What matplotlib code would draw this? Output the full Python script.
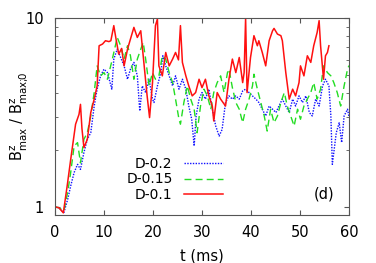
import matplotlib
matplotlib.use('Agg')
import matplotlib.pyplot as plt
from matplotlib.ticker import LogLocator, NullFormatter, FixedLocator


# Values
t_02 = [0, 0.8, 1.8, 2.6, 3.2, 3.9, 4.6, 5.2, 5.9, 6.6, 7.3, 8.0, 8.6, 9.3, 10.0,
        10.7, 11.6, 12.0, 12.7, 13.4, 14.1, 14.8, 15.4, 16.1, 16.8, 17.3, 17.8,
        18.5, 19.2, 19.9, 20.2, 20.9, 21.6, 22.0, 22.6, 23.3, 24.0, 24.6, 25.3,
        26.0, 26.7, 27.3, 27.9, 28.4, 28.8, 29.4, 30.0, 30.7, 31.4, 32.1, 32.8,
        33.5, 34.1, 34.8, 35.5, 36.2, 36.9, 37.6, 38.3, 38.9, 39.6, 40.3, 41.0,
        41.6, 42.3, 43.0, 43.7, 44.4, 45.1, 45.7, 46.4, 47.1, 47.8, 48.5, 49.1,
        49.8, 50.5, 51.2, 51.9, 52.5, 53.2, 53.9, 54.6, 55.2, 55.9, 56.3, 56.6,
        56.9, 57.4, 58.0, 58.5, 59.0, 59.7, 60.0]
b_02 = [1.0, 0.99, 0.93, 1.1, 1.29, 1.52, 1.68, 1.58, 1.94, 2.28, 2.47, 3.42, 4.20,
        4.94, 5.36, 5.14, 4.20, 6.06, 6.84, 6.18, 5.58, 4.74, 5.36, 5.82, 4.94,
        3.22, 4.37, 4.03, 4.74, 3.72, 3.57, 4.37, 5.14, 6.31, 5.58, 4.94, 4.37,
        4.94, 4.20, 4.74, 4.20, 3.42, 2.91, 2.10, 3.03, 3.72, 4.03, 3.72, 4.20,
        3.29, 2.68, 2.37, 2.57, 3.57, 3.87, 3.72, 3.87, 3.72, 4.11, 4.20, 4.03,
        3.87, 3.72, 3.57, 3.29, 3.03, 3.42, 3.29, 3.16, 3.42, 3.72, 3.42, 3.16,
        3.72, 3.42, 3.87, 3.57, 3.87, 3.16, 3.03, 3.72, 3.42, 4.37, 4.74, 4.37,
        3.03, 1.68, 1.94, 2.47, 2.79, 2.19, 3.03, 3.29, 3.0]

t_015 = [0, 0.8, 1.8, 2.6, 3.2, 3.9, 4.6, 5.2, 5.9, 6.6, 7.3, 8.0, 8.6, 9.3, 10.0,
         10.7, 11.7, 12.7, 13.4, 14.1, 14.8, 15.4, 16.1, 16.8, 17.5, 18.0, 18.5,
         19.2, 19.9, 20.5, 21.2, 21.9, 22.6, 23.3, 24.0, 24.6, 25.3, 25.6, 26.3,
         27.0, 27.7, 28.4, 29.0, 29.7, 30.4, 31.1, 31.8, 32.4, 33.1, 33.8, 34.5,
         35.2, 35.5, 36.2, 36.9, 37.6, 38.3, 38.9, 39.6, 40.3, 40.6, 41.3, 42.0,
         42.7, 43.3, 44.0, 44.7, 45.4, 46.1, 46.8, 47.4, 48.1, 48.8, 49.5, 50.1,
         50.8, 51.5, 52.2, 52.8, 53.5, 54.2, 54.8, 55.6, 56.3, 56.9, 57.6, 58.3,
         59.0, 59.7, 60.0]
b_015 = [1.0, 0.99, 0.95, 1.2, 1.52, 2.10, 2.19, 1.71, 2.28, 2.47, 3.03, 4.03, 5.58,
         4.94, 5.14, 4.74, 6.06, 7.89, 7.13, 6.06, 7.13, 6.31, 4.74, 6.06, 6.84,
         7.43, 6.06, 4.37, 5.14, 4.74, 4.94, 6.31, 6.06, 5.14, 4.55, 3.72, 2.91,
         2.74, 3.57, 4.37, 3.72, 3.29, 2.47, 3.42, 4.20, 3.87, 3.29, 4.03, 4.55,
         4.94, 4.03, 5.14, 5.36, 4.28, 3.57, 3.29, 2.79, 3.29, 3.72, 4.37, 5.04,
         4.20, 3.57, 3.03, 2.52, 3.29, 2.79, 3.03, 3.57, 4.03, 3.42, 3.03, 2.68,
         3.29, 2.91, 3.42, 3.72, 4.03, 4.55, 3.72, 4.20, 5.58, 5.14, 4.94, 4.55,
         4.03, 3.42, 4.37, 5.36, 5.6]

t_01 = [0, 0.8, 1.7, 2.5, 3.2, 4.2, 4.9, 5.2, 5.5, 5.9, 6.6, 7.3, 8.0, 8.6, 9.0,
        9.7, 10.3, 11.0, 11.4, 12.0, 12.4, 13.0, 13.6, 14.1, 14.8, 15.4, 16.1,
        16.8, 17.5, 18.2, 18.8, 19.3, 19.9, 20.5, 20.9, 21.2, 21.9, 22.6, 23.3,
        24.0, 24.6, 25.2, 25.6, 26.0, 26.7, 27.3, 28.0, 28.7, 29.4, 30.0, 30.7,
        31.4, 32.1, 32.4, 33.1, 33.8, 34.8, 35.5, 36.2, 36.9, 37.6, 38.3, 38.6,
        38.9, 39.2, 39.9, 40.6, 41.3, 41.6, 42.3, 43.0, 43.7, 44.4, 44.7, 45.4,
        46.1, 46.4, 47.1, 47.8, 48.5, 49.1, 49.8, 50.1, 50.8, 51.5, 52.2, 52.8,
        53.5, 53.9, 54.2, 54.8, 55.2, 55.6, 55.9]
b_01 = [1.0, 0.99, 0.93, 1.3, 1.78, 2.74, 3.09, 3.49, 2.6, 2.06, 2.28, 3.16, 3.72,
        4.37, 7.13, 7.28, 7.58, 7.5, 7.58, 9.11, 7.89, 6.44, 6.9, 5.58, 6.84,
        7.74, 8.92, 7.89, 8.56, 5.58, 3.87, 2.97, 4.55, 9.11, 9.88, 5.58, 4.94,
        6.57, 5.58, 6.06, 6.57, 6.0, 9.11, 5.82, 4.94, 4.37, 3.87, 4.03, 4.74,
        4.28, 4.74, 3.87, 3.42, 2.85, 4.03, 3.72, 3.42, 4.74, 6.06, 5.14, 6.18,
        4.55, 5.14, 10.0, 4.03, 6.18, 8.06, 7.13, 7.58, 6.57, 5.58, 7.58, 8.56,
        8.81, 8.22, 8.06, 7.58, 5.14, 3.72, 4.20, 3.87, 4.55, 5.58, 4.94, 6.31,
        5.82, 7.13, 8.39, 9.68, 7.13, 4.74, 6.31, 6.57, 7.13]

labels = ['D-0.2', 'D-0.15', 'D-0.1']

fig = plt.figure(figsize=(3.76, 2.63), dpi=100)
axes = fig.add_axes([55 / 376, 48 / 263, 294 / 376, 197 / 263])

axes.plot(t_02, b_02, color='#1010ff', lw=1.0, ls=(0, (1, 1)), label=labels[0])
axes.plot(t_015, b_015, color='#22dd22', lw=1.0, ls=(0, (5, 3)), label=labels[1])
axes.plot(t_01, b_01, color='#ff1010', lw=1.1, label=labels[2])

axes.set_yscale('log')
axes.set_xlim(0, 60)
axes.set_ylim(0.906, 10)
axes.xaxis.set_major_locator(FixedLocator([0, 10, 20, 30, 40, 50, 60]))
axes.yaxis.set_major_locator(FixedLocator([1, 10]))
axes.yaxis.set_major_formatter(plt.FixedFormatter(['1', '10']))
axes.yaxis.set_minor_locator(LogLocator(base=10, subs=range(2, 10)))
axes.yaxis.set_minor_formatter(NullFormatter())
axes.tick_params(which='both', direction='in', top=True, right=True,
                 labelsize=10.5, color='#555555')
axes.tick_params(which='major', length=3.5)
axes.tick_params(axis='x', which='major', pad=7.5)
axes.tick_params(axis='y', which='major', pad=8)
axes.tick_params(which='minor', length=2.5)
for spine in axes.spines.values():
    spine.set_color('#555555')
    spine.set_linewidth(0.8)

axes.set_xlabel('t (ms)', fontsize=10.5, labelpad=6)
axes.set_ylabel(r'B$^{\rm z}_{\rm max}$ / B$^{\rm z}_{\rm max;\!\!0}$', fontsize=10.5)
axes.yaxis.set_label_coords(-0.085, 0.5)
axes.text(0.915, 0.105, '(d)', transform=axes.transAxes, fontsize=10.5,
          ha='center', va='center')

axes.legend(loc='upper right', bbox_to_anchor=(0.603, 0.345), frameon=False,
            markerfirst=False, fontsize=10, handlelength=2.8,
            labelspacing=0.12, handletextpad=0.8, borderpad=0.2)

fig.savefig('out.png', dpi=100)
plt.close(fig)
